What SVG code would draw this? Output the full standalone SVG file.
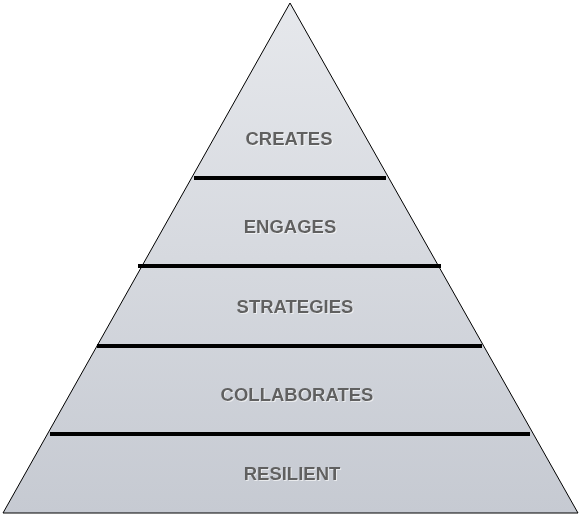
<svg xmlns="http://www.w3.org/2000/svg" width="587" height="517" viewBox="0 0 587 517">
<defs>
<linearGradient id="g" x1="0" y1="0" x2="0" y2="1">
<stop offset="0" stop-color="#e6e8ec"/>
<stop offset="1" stop-color="#c6cad2"/>
</linearGradient>
<filter id="sh" x="-10%" y="-30%" width="120%" height="160%">
<feOffset dx="1" dy="1" in="SourceAlpha" result="o"/>
<feFlood flood-color="#ffffff" flood-opacity="0.6"/>
<feComposite in2="o" operator="in" result="s"/>
<feMerge><feMergeNode in="s"/><feMergeNode in="SourceGraphic"/></feMerge>
</filter>
</defs>
<style>
.lbl{font-family:"Liberation Sans",Arial,sans-serif;font-weight:bold;font-size:18.5px;fill:#606060;text-anchor:middle}
.sep{stroke:#000;stroke-width:4}
</style>
<rect width="587" height="517" fill="#ffffff"/>
<g id="pyramid">
<polygon points="290,3 578,513 3,513" fill="url(#g)" stroke="#000" stroke-width="1"/>
</g>
<g id="connectors">
<line class="sep" x1="194" y1="178" x2="386" y2="178"/>
<line class="sep" x1="138" y1="266" x2="441" y2="266"/>
<line class="sep" x1="97" y1="346" x2="482" y2="346"/>
<line class="sep" x1="50" y1="434" x2="530" y2="434"/>
</g>
<g id="creates"><text class="lbl" x="289" y="145" filter="url(#sh)">CREATES</text></g>
<g id="engages"><text class="lbl" x="290" y="233" filter="url(#sh)">ENGAGES</text></g>
<g id="strategies"><text class="lbl" x="295" y="313" filter="url(#sh)">STRATEGIES</text></g>
<g id="collaborates"><text class="lbl" x="297" y="401" filter="url(#sh)">COLLABORATES</text></g>
<g id="resilient"><text class="lbl" x="292" y="480" filter="url(#sh)">RESILIENT</text></g>
</svg>
